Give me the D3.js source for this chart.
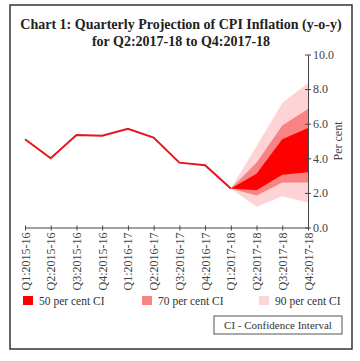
<!DOCTYPE html>
<html><head><meta charset="utf-8">
<script src="https://cdn.jsdelivr.net/npm/d3@7"></script>
<style>html,body{margin:0;padding:0;background:#fff;}svg{display:block;}</style>
</head><body>
<svg id="c" width="360" height="361"></svg>
<script>
const categories = ["Q1:2015-16","Q2:2015-16","Q3:2015-16","Q4:2015-16","Q1:2016-17","Q2:2016-17","Q3:2016-17","Q4:2016-17","Q1:2017-18","Q2:2017-18","Q3:2017-18","Q4:2017-18"];
const cpiActual = [5.1, 4.0, 5.35, 5.3, 5.7, 5.2, 3.75, 3.6, 2.25];
const fanCategories = ["Q1:2017-18","Q2:2017-18","Q3:2017-18","Q4:2017-18"];
const ci90Lower = [2.25, 1.2, 1.8, 1.45];
const ci90Upper = [2.25, 4.7, 7.2, 8.35];
const ci70Lower = [2.25, 1.85, 2.6, 2.6];
const ci70Upper = [2.25, 3.75, 5.9, 6.85];
const ci50Lower = [2.25, 2.15, 3.05, 3.2];
const ci50Upper = [2.25, 3.1, 5.1, 5.75];
const yTicks = [0, 2, 4, 6, 8, 10];
const legendLabels = ["50 per cent CI", "70 per cent CI", "90 per cent CI"];
const titleLines = ["Chart 1: Quarterly Projection of CPI Inflation (y-o-y)", "for Q2:2017-18 to Q4:2017-18"];

const colors = {line:"#e8141c", c50:"#ff0000", c70:"#f98282", c90:"#fdd3d5"};
const serif = "'Liberation Serif','Times New Roman',serif";

const svg = d3.select("#c");
svg.append("rect").attr("x",10).attr("y",5).attr("width",342).attr("height",344)
  .attr("fill","none").attr("stroke","#333").attr("stroke-width",1.5);

svg.selectAll("text.title").data(titleLines).join("text").attr("class","title")
  .attr("x",181).attr("y",(d,i)=>29+i*17).attr("text-anchor","middle")
  .attr("font-family",serif).attr("font-weight","bold").attr("font-size",14).attr("fill","#222")
  .text(d=>d);

const x = d3.scalePoint().domain(categories).range([25, 308]).padding(0);
const y = d3.scaleLinear().domain([0,10]).range([227.5, 54.5]);

function band(lo, hi){
  return d3.area().x((d,i)=>x(fanCategories[i])).y0((d,i)=>y(lo[i])).y1((d,i)=>y(hi[i]))(fanCategories);
}
svg.append("path").attr("d",band(ci90Lower,ci90Upper)).attr("fill",colors.c90);
svg.append("path").attr("d",band(ci70Lower,ci70Upper)).attr("fill",colors.c70);
svg.append("path").attr("d",band(ci50Lower,ci50Upper)).attr("fill",colors.c50);

svg.append("path").datum(cpiActual)
  .attr("d", d3.line().x((d,i)=>x(categories[i])).y(d=>y(d)))
  .attr("fill","none").attr("stroke",colors.line).attr("stroke-width",2);

// x axis
const xAxis = svg.append("g").attr("transform",`translate(0,${y(0)})`)
  .call(d3.axisBottom(x).tickSize(3).tickSizeOuter(0));
xAxis.select(".domain").attr("stroke","#444");
xAxis.selectAll(".tick line").attr("stroke","#444").attr("y1",-2);
xAxis.selectAll(".tick text")
  .attr("font-family",serif).attr("font-size",12).attr("fill","#444")
  .attr("text-anchor","end").attr("dy",null)
  .attr("transform","rotate(-90)").attr("x",-5).attr("y",4);

// y axis
const yAxis = svg.append("g").attr("transform",`translate(${x(categories[categories.length-1])},0)`)
  .call(d3.axisRight(y).tickValues(yTicks).tickFormat(d3.format(".1f")).tickSize(3).tickSizeOuter(0));
yAxis.select(".domain").attr("stroke","#444");
yAxis.selectAll(".tick line").attr("stroke","#444").attr("x1",-3);
yAxis.selectAll(".tick text").attr("font-family",serif).attr("font-size",12).attr("fill","#444").attr("x",5);

svg.append("text").attr("transform",`translate(342,${y(5)}) rotate(-90)`)
  .attr("text-anchor","middle").attr("font-family",serif).attr("font-size",12).attr("fill","#444")
  .text("Per cent");

// legend
const legendX = [23, 142, 259];
const legendColors = [colors.c50, colors.c70, colors.c90];
const lg = svg.selectAll("g.lg").data(legendLabels).join("g").attr("class","lg")
  .attr("transform",(d,i)=>`translate(${legendX[i]},296)`);
lg.append("rect").attr("width",10).attr("height",9).attr("fill",(d,i)=>legendColors[i]);
lg.append("text").attr("x",16).attr("y",8.5).attr("font-family",serif).attr("font-size",11.5).attr("fill","#333").text(d=>d);

svg.append("rect").attr("x",214).attr("y",316).attr("width",128).attr("height",18)
  .attr("fill","none").attr("stroke","#555").attr("stroke-width",1);
svg.append("text").attr("x",278).attr("y",329).attr("text-anchor","middle")
  .attr("font-family",serif).attr("font-size",11).attr("fill","#333").text("CI - Confidence Interval");
</script>
</body></html>
